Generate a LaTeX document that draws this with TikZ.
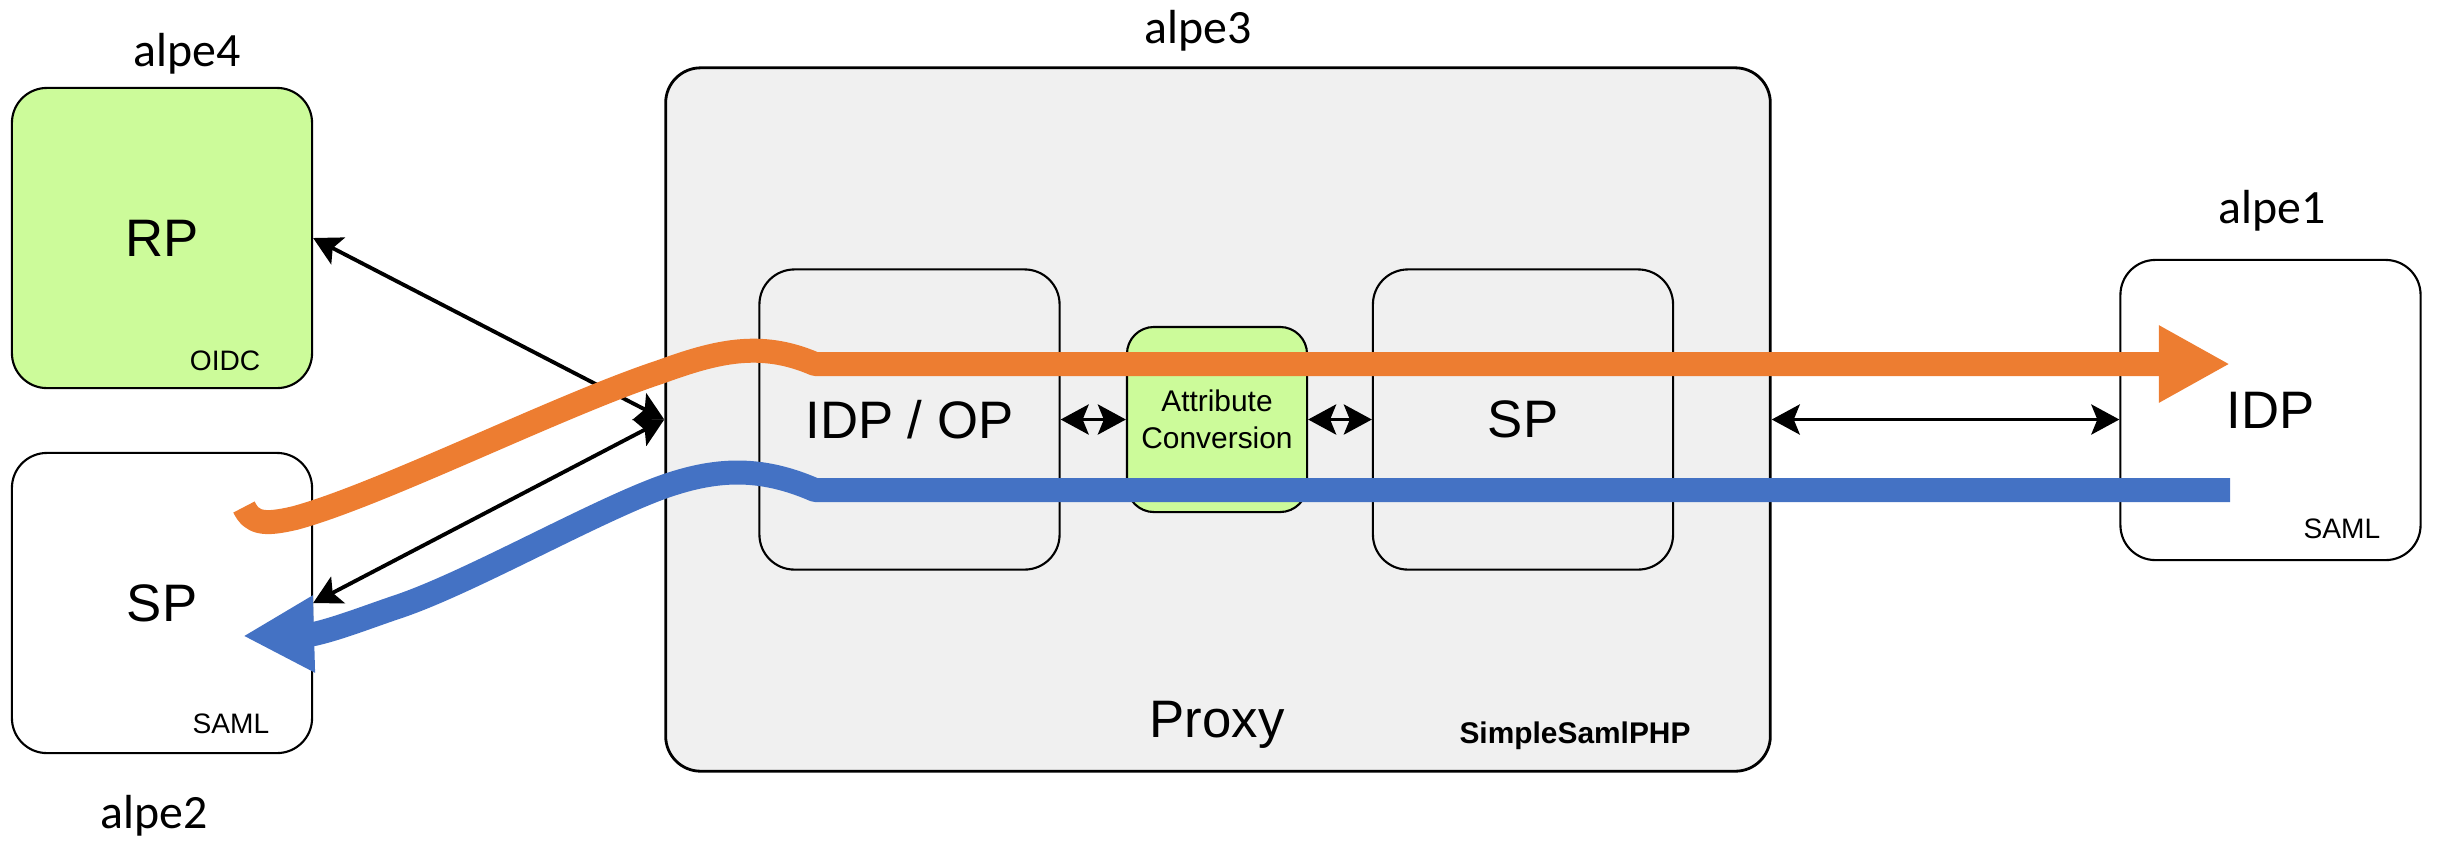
\documentclass[tikz,border=0pt]{standalone}
\usepackage{fontspec}
\setmainfont{Liberation Sans}
\newfontfamily\alpefont{Carlito}
\usetikzlibrary{arrows.meta,positioning}
\usepackage{xcolor}
\definecolor{boxgreen}{HTML}{CCFB9A}
\definecolor{proxygrey}{HTML}{F0F0F0}
\definecolor{floworange}{HTML}{ED7D31}
\definecolor{flowblue}{HTML}{4472C4}

\begin{document}
\begin{tikzpicture}[
    x=0.01cm, y=-0.01cm,
    entity/.style={rectangle, draw, line width=0.6pt, rounded corners=0.35cm, minimum width=3cm, minimum height=3cm, font=\fontsize{15}{18}\selectfont},
    proxybox/.style={rectangle, draw, line width=0.8pt, fill=proxygrey, rounded corners=0.35cm, minimum width=11.04cm, minimum height=7.03cm},
    conv/.style={rectangle, draw, line width=0.6pt, fill=boxgreen, rounded corners=0.27cm, minimum width=1.8cm, minimum height=1.85cm, align=center, inner sep=1pt, font=\fontsize{8.5}{10.5}\selectfont},
    alpe/.style={anchor=base, inner sep=0pt, font=\alpefont\fontsize{13.6}{16}\selectfont},
    tag/.style={anchor=base east, inner sep=0pt, font=\fontsize{8}{9}\selectfont},
    biarrow/.style={line width=1.1pt, >={Stealth[length=2.8mm,width=3mm,inset=0.6mm]}, <->},
    flow/.style={line width=0.24cm, line join=round, -{Triangle[length=7.1mm,width=7.2mm]}}
]
\useasboundingbox (0,0) rectangle (2438,841);

% Clients a gauche
\node[alpe] (lbl4) at (187,66) {alpe4};
\node[entity, fill=boxgreen] (rp) at (162,238) {RP};
\node[tag] (rptag) at (261,370) {OIDC};

\node[entity] (sp) at (162,603) {SP};
\node[tag] (sptag) at (270,733) {SAML};
\node[alpe] (lbl2) at (154,828) {alpe2};

% Proxy
\node[proxybox] (proxy) at (1218,419.5) {};
\node[alpe] (lbl3) at (1198,43) {alpe3};
\node[entity] (idpop) at (909.5,419.5) {IDP / OP};
\node[conv] (attr) at (1217,419.5) {Attribute\\Conversion};
\node[entity] (spin) at (1523,419.5) {SP};
\node[anchor=base, inner sep=0pt, font=\fontsize{15}{18}\selectfont] (proxylbl) at (1217,737) {Proxy};
\node[anchor=base, inner sep=0pt, font=\bfseries\fontsize{8.5}{10}\selectfont] (ssplbl) at (1575,743) {SimpleSamlPHP};

% IDP a droite
\node[alpe] (lbl1) at (2272,223) {alpe1};
\node[entity] (idp) at (2270.5,410) {IDP};
\node[tag] (idptag) at (2381,538) {SAML};

% Fleches noires
\draw[biarrow] (rp.east) -- (proxy.west);
\draw[biarrow] (sp.east) -- (proxy.west);
\draw[biarrow] (idpop.east) -- (attr.west);
\draw[biarrow] (attr.east) -- (spin.west);
\draw[biarrow] (proxy.east) -- (proxy.east -| idp.west);

% Flux aller (orange) et retour (bleu)
\coordinate (orstart) at (244,507);
\coordinate (orend) at (2230,364);
\coordinate (blstart) at (2230,490);
\coordinate (blend) at (243,636);

\draw[flow, floworange] (orstart) .. controls (252,524) and (265,525) .. (295,518)
    .. controls (380,495) and (560,405) .. (660,372)
    .. controls (715,352) and (760,340) .. (815,364) -- (orend);
\draw[flow, flowblue] (blstart) -- (815,490)
    .. controls (760,466) and (715,468) .. (660,488)
    .. controls (590,514) and (470,582) .. (400,606)
    .. controls (370,616) and (340,628) .. (314,634) -- (blend);

\end{tikzpicture}
\end{document}
